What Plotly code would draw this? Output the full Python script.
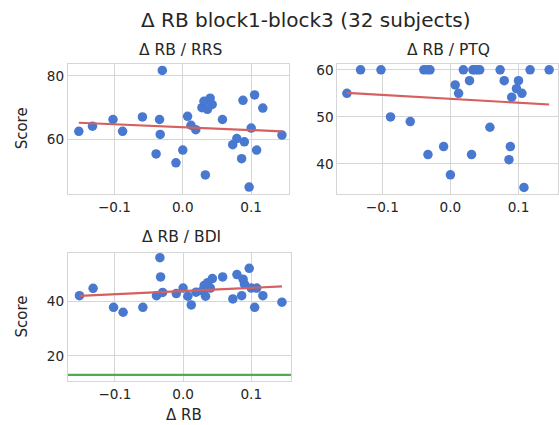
import numpy as np
import plotly.graph_objects as go

# ---- data ----
delta_rb = [-0.152, -0.132, -0.102, -0.088, -0.059, -0.039, -0.034, -0.033,
            -0.030, -0.010, 0.000, 0.007, 0.012, 0.019, 0.028, 0.031,
            0.033, 0.036, 0.040, 0.043, 0.058, 0.073, 0.079, 0.086,
            0.088, 0.090, 0.097, 0.100, 0.105, 0.108, 0.117, 0.145]
rrs = [62.6, 64.2, 66.3, 62.6, 67.1, 55.5, 66.3, 61.6,
       81.7, 52.7, 56.7, 67.3, 64.5, 63.1, 70.0, 72.0,
       48.9, 69.5, 73.0, 71.0, 66.3, 58.4, 60.3, 54.0,
       72.3, 59.3, 45.1, 63.6, 74.0, 56.7, 69.9, 61.4]
ptq = [55.0, 60.0, 60.0, 50.0, 49.0, 60.0, 60.0, 42.0,
       60.0, 43.7, 37.7, 56.8, 55.0, 60.0, 57.7, 42.0,
       60.0, 60.0, 60.0, 60.0, 47.8, 60.0, 57.7, 40.9,
       43.7, 54.2, 56.0, 57.7, 55.0, 35.0, 60.0, 60.0]
bdi = [42.2, 44.9, 37.9, 36.1, 37.9, 42.2, 56.2, 49.1,
       43.4, 43.0, 45.0, 42.0, 38.8, 43.5, 44.0, 46.0,
       42.0, 47.0, 45.0, 48.5, 49.1, 41.0, 50.0, 42.2,
       48.3, 46.5, 52.3, 45.0, 37.9, 45.0, 42.2, 39.8]
bdi_cutoff = 13

panel_titles = ["Δ RB / RRS", "Δ RB / PTQ", "Δ RB / BDI"]
main_title = "Δ RB block1-block3 (32 subjects)"
x_label = "Δ RB"
y_label = "Score"

BLUE = "#4878CF"
RED = "#D65F5F"
GREEN = "#4DAF4A"
GRID = "#d6d6d6"
TEXT = "#262626"
FONT = "DejaVu Sans, sans-serif"

W, H = 559, 425

def xd(a, b):
    return [max(0, a / W), min(1, b / W)]

def yd(top, bottom):
    return [max(0, 1 - bottom / H), min(1, 1 - top / H)]

fig = go.Figure()

panels = [
    dict(y=rrs, xa="x", ya="y", xdom=xd(68, 290), ydom=yd(62, 193),
         xr=[-0.168, 0.156], yr=[42.9, 83.8], dt=20),
    dict(y=ptq, xa="x2", ya="y2", xdom=xd(338, 560), ydom=yd(62, 193),
         xr=[-0.166, 0.158], yr=[33.6, 61.3], dt=10),
    dict(y=bdi, xa="x3", ya="y3", xdom=xd(68, 292), ydom=yd(252, 381),
         xr=[-0.169, 0.159], yr=[10.7, 58.0], dt=20),
]

x = np.array(delta_rb)
xs = np.array([x.min(), x.max()])
for i, p in enumerate(panels):
    y = np.array(p["y"])
    fig.add_trace(go.Scatter(x=x, y=y, mode="markers", xaxis=p["xa"], yaxis=p["ya"],
                             marker=dict(color=BLUE, size=9.5, line=dict(width=0)),
                             showlegend=False))
    k, b = np.polyfit(x, y, 1)
    fig.add_trace(go.Scatter(x=xs, y=k * xs + b, mode="lines", xaxis=p["xa"], yaxis=p["ya"],
                             line=dict(color=RED, width=2.2), showlegend=False))

# BDI cutoff line across the full panel
fig.add_trace(go.Scatter(x=panels[2]["xr"], y=[bdi_cutoff, bdi_cutoff], mode="lines",
                         xaxis="x3", yaxis="y3", line=dict(color=GREEN, width=2.2),
                         showlegend=False))

axis_common = dict(showgrid=True, gridcolor=GRID, gridwidth=1, zeroline=False,
                   showline=True, linecolor=GRID, linewidth=1.2, mirror=True,
                   ticks="", tickfont=dict(size=13.6, color=TEXT, family=FONT))

layout = dict(width=W, height=H, margin=dict(l=0, r=0, t=0, b=0),
              paper_bgcolor="white", plot_bgcolor="white",
              font=dict(family=FONT, color=TEXT))
for i, p in enumerate(panels):
    sx = "" if i == 0 else str(i + 1)
    layout["xaxis" + sx] = dict(domain=p["xdom"], range=p["xr"], dtick=0.1, tick0=0,
                                tickformat=".1f", anchor="y" + sx, **axis_common)
    layout["yaxis" + sx] = dict(domain=p["ydom"], range=p["yr"], dtick=p["dt"], tick0=0,
                                anchor="x" + sx, **axis_common)
fig.update_layout(**layout)

ann = []
ann.append(dict(text=main_title, x=307 / W, y=1 - 18 / H, xref="paper", yref="paper",
                showarrow=False, font=dict(size=20, color=TEXT, family=FONT),
                xanchor="center", yanchor="middle"))
title_pos = [(181, 48), (449, 48), (182, 236)]
for t, (cx, cy) in zip(panel_titles, title_pos):
    ann.append(dict(text=t, x=cx / W, y=1 - cy / H, xref="paper", yref="paper",
                    showarrow=False, font=dict(size=15.5, color=TEXT, family=FONT),
                    xanchor="center", yanchor="middle"))
for cy in [127, 316]:
    ann.append(dict(text=y_label, x=22 / W, y=1 - cy / H, xref="paper", yref="paper",
                    showarrow=False, textangle=-90, font=dict(size=15, color=TEXT, family=FONT),
                    xanchor="center", yanchor="middle"))
ann.append(dict(text=x_label, x=184 / W, y=0, xref="paper", yref="paper",
                showarrow=False, font=dict(size=15, color=TEXT, family=FONT),
                xanchor="center", yanchor="bottom", yshift=-1))
fig.update_layout(annotations=ann)

fig.write_html("out.html", config={"displayModeBar": False},
               post_script="document.body.style.margin='0';document.body.style.overflow='hidden';")
